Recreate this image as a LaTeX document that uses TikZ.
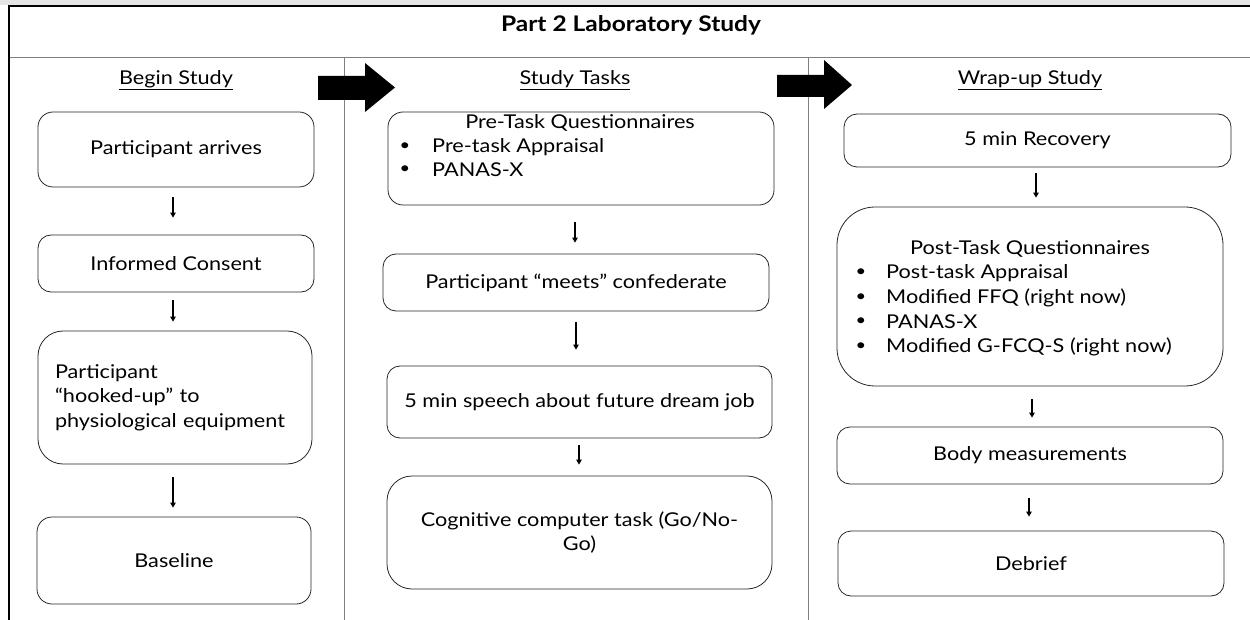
\documentclass[tikz,border=0pt]{standalone}
\usepackage{fontspec}
\setmainfont{Lato}[FakeStretch=1.14]
\usetikzlibrary{arrows.meta}
\newcommand\diagfont{\fontsize{19}{24.5}\selectfont}
\begin{document}
\begin{tikzpicture}[x=1pt,y=-1pt,
  box/.style={draw=black!85, line width=0.8pt, rounded corners=13pt,
    align=center, inner sep=0pt, font=\diagfont},
  txt/.style={inner sep=0pt, font=\diagfont},
  head/.style={inner sep=0pt, font=\diagfont},
  flow/.style={draw=black, line width=1.1pt, -{Triangle[width=5.5pt,length=5pt]}},
  frame/.style={draw=black, line width=1.3pt},
  rule/.style={draw=black!50, line width=0.9pt},
  blockarrow/.style={fill=black}
]
\useasboundingbox (0,0) rectangle (1250,620);

% page strip and frame
\fill[black!10] (0,0) rectangle (1250,5);
\draw[rule] (9,57) -- (1250,57);
\draw[rule] (344,57) -- (344,620);
\draw[rule] (808,57) -- (808,620);
\draw[frame] (9,620) -- (9,6) -- (1250,6);

% title and column headings
\node[txt, font=\fontsize{21.5}{24}\selectfont\bfseries] (title) at (631,25) {Part 2 Laboratory Study};
\node[head] (h1) at (176,80) {\underline{Begin Study}};
\node[head] (h2) at (575,80) {\underline{Study Tasks}};
\node[head] (h3) at (1030,80) {\underline{Wrap-up Study}};

% block arrows between phases
\fill[blockarrow] (318,76) -- (365,76) -- (365,63) -- (395,87.5) -- (365,112)
  -- (365,100) -- (318,100) -- cycle;
\fill[blockarrow] (777,75) -- (824,75) -- (824,60) -- (852,85) -- (824,109)
  -- (824,97) -- (777,97) -- cycle;

% Begin Study
\node[box, minimum width=276pt, minimum height=75pt, rounded corners=15pt] (a1) at (176,149.5) {Participant arrives};
\node[box, minimum width=276pt, minimum height=57pt] (a2) at (176,263.5) {Informed Consent};
\node[box, text width=240pt, inner xsep=17pt, minimum height=133pt, align=left, rounded corners=25pt] (a3) at (175,397.5)
  {Participant\\``hooked-up'' to\\physiological equipment};
\node[box, minimum width=274pt, minimum height=87pt, rounded corners=15pt] (a4) at (174,560.5) {Baseline};

% Study Tasks
\node[box, minimum width=386pt, minimum height=93pt, rounded corners=15pt] (b1) at (581,158.5) {};
\node[txt] (b1t) at (580,123) {Pre-Task Questionnaires};
\foreach \i/\yy/\item in {1/147/Pre-task Appraisal, 2/170/PANAS-X}{
  \node[txt, font=\fontsize{16}{20}\selectfont] (b1d\i) at (405,\yy) {\textbullet};
  \node[txt, anchor=west] (b1i\i) at (432,\yy) {\item};
}
\node[box, minimum width=386pt, minimum height=57pt] (b2) at (576,282.5) {Participant ``meets'' confederate};
\node[box, minimum width=385pt, minimum height=72pt] (b3) at (579.5,402) {5 min speech about future dream job};
\node[box, minimum width=385pt, minimum height=113pt, rounded corners=25pt] (b4) at (579.5,532.5)
  {Cognitive computer task (Go/No-\\Go)};

% Wrap-up Study
\node[box, minimum width=387pt, minimum height=53pt] (c1) at (1037.5,140.5) {5 min Recovery};
\node[box, minimum width=386pt, minimum height=179pt, rounded corners=38pt] (c2) at (1030,296.5) {};
\node[txt] (c2t) at (1030,249) {Post-Task Questionnaires};
\foreach \i/\yy/\item in {1/273/Post-task Appraisal, 2/297.5/Modified FFQ (right now),
  3/322/PANAS-X, 4/346.5/Modified G-FCQ-S (right now)}{
  \node[txt, font=\fontsize{16}{20}\selectfont] (c2d\i) at (861,\yy) {\textbullet};
  \node[txt, anchor=west] (c2i\i) at (886,\yy) {\item};
}
\node[box, minimum width=386pt, minimum height=57pt] (c3) at (1030,455.5) {Body measurements};
\node[box, minimum width=386pt, minimum height=65pt] (c4) at (1031,563.5) {Debrief};

% connectors
\draw[flow, shorten <=10pt, shorten >=17pt] ([xshift=-3pt]a1.south) -- ([xshift=-3pt]a2.north);
\draw[flow, shorten <=8pt, shorten >=9pt] ([xshift=-3pt]a2.south) -- ([xshift=-2pt]a3.north);
\draw[flow, shorten <=13pt, shorten >=9pt] ([xshift=-2pt]a3.south) -- ([xshift=-1pt]a4.north);
\draw[flow, shorten <=17pt, shorten >=11pt] ([xshift=-6pt]b1.south) -- ([xshift=-1pt]b2.north);
\draw[flow, shorten <=11pt, shorten >=16pt] (b2.south) -- ([xshift=-3.5pt]b3.north);
\draw[flow, shorten <=7pt, shorten >=11pt] ([xshift=-0.5pt]b3.south) -- ([xshift=-0.5pt]b4.north);
\draw[flow, shorten <=6pt, shorten >=9pt] ([xshift=-1.5pt]c1.south) -- ([xshift=6pt]c2.north);
\draw[flow, shorten <=13pt, shorten >=9pt] ([xshift=2pt]c2.south) -- ([xshift=2pt]c3.north);
\draw[flow, shorten <=14pt, shorten >=14pt] ([xshift=-1pt]c3.south) -- ([xshift=-2pt]c4.north);
\end{tikzpicture}
\end{document}
